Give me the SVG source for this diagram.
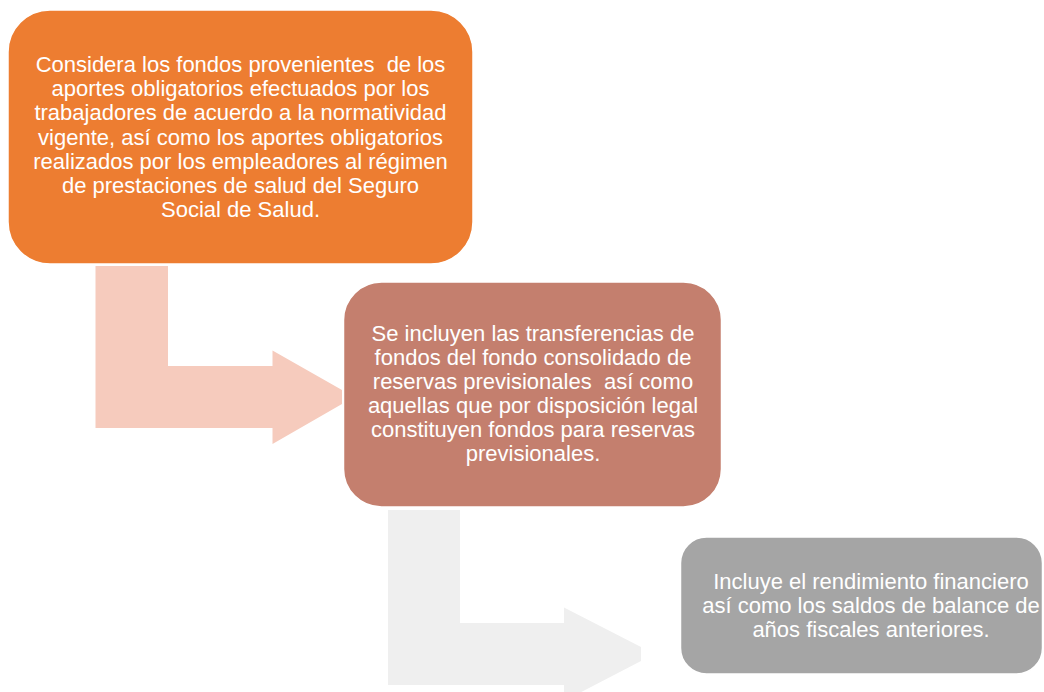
<svg xmlns="http://www.w3.org/2000/svg" width="1044" height="692" viewBox="0 0 1044 692">
<style>
.t{font-family:"Liberation Sans",Arial,sans-serif;font-size:22px;fill:#ffffff;text-anchor:middle;white-space:pre}
.box{stroke:#ffffff;stroke-width:1.5}
</style>
<rect width="1044" height="692" fill="#ffffff"/>
<g id="connectors">
<polygon id="arrow1" fill="#F6CBBD" points="95.5,266 168,266 168,366 272.5,366 272.5,350.5 342,390 342,404 272.5,444 272.5,428 95.5,428"/>
<polygon id="arrow2" fill="#EFEFEF" points="388,510 460,510 460,623 564,623 564,607.5 641,647 641,661 564,701 564,685 388,685"/>
</g>
<g id="node1">
<rect class="box" x="8" y="10" width="465" height="254" rx="42" ry="42" fill="#ED7D31"/>
<text class="t" x="240.5" y="72" xml:space="preserve">Considera los fondos provenientes  de los</text>
<text class="t" x="240.5" y="96">aportes obligatorios efectuados por los</text>
<text class="t" x="240.5" y="120">trabajadores de acuerdo a la normatividad</text>
<text class="t" x="240.5" y="145">vigente, así como los aportes obligatorios</text>
<text class="t" x="240.5" y="169">realizados por los empleadores al régimen</text>
<text class="t" x="240.5" y="193">de prestaciones de salud del Seguro</text>
<text class="t" x="240.5" y="217">Social de Salud.</text>
</g>
<g id="node2">
<rect class="box" x="343.5" y="282" width="378" height="225" rx="38" ry="38" fill="#C47F6E"/>
<text class="t" x="533" y="341">Se incluyen las transferencias de</text>
<text class="t" x="533" y="365">fondos del fondo consolidado de</text>
<text class="t" x="533" y="389" xml:space="preserve">reservas previsionales  así como</text>
<text class="t" x="533" y="413">aquellas que por disposición legal</text>
<text class="t" x="533" y="437">constituyen fondos para reservas</text>
<text class="t" x="533" y="461">previsionales.</text>
</g>
<g id="node3">
<rect class="box" x="680.5" y="537" width="362" height="137" rx="26" ry="26" fill="#A5A5A5"/>
<text class="t" x="871" y="589">Incluye el rendimiento financiero</text>
<text class="t" x="871" y="613">así como los saldos de balance de</text>
<text class="t" x="871" y="637">años fiscales anteriores.</text>
</g>
</svg>
